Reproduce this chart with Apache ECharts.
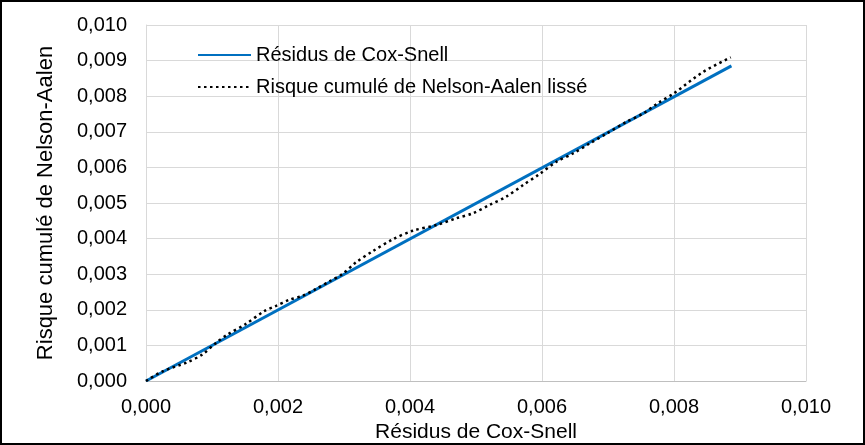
<!DOCTYPE html>
<html>
<head>
<meta charset="utf-8">
<script src="https://cdn.jsdelivr.net/npm/echarts@6/dist/echarts.min.js"></script>
<style>
html,body{margin:0;padding:0;background:#fff;}
#c{width:865px;height:445px;}
</style>
</head>
<body>
<div id="c"></div>
<script>
// Data
const seriesNames = ['Résidus de Cox-Snell', 'Risque cumulé de Nelson-Aalen lissé'];
const coxSnellX = [0, 0.00887];
const coxSnellY = [0, 0.00885];
const nelsonX = [0, 0.00025, 0.00063, 0.00085, 0.00106, 0.00123, 0.00151, 0.00179, 0.00197, 0.00217, 0.00237, 0.00257, 0.00278, 0.00298, 0.00318, 0.00343, 0.00374, 0.00404, 0.0044, 0.0047, 0.00495, 0.0052, 0.00546, 0.00571, 0.00596, 0.00622, 0.00647, 0.00672, 0.00698, 0.00728, 0.00753, 0.00776, 0.00799, 0.00844, 0.00886];
const nelsonY = [0, 0.00027, 0.00053, 0.00074, 0.00107, 0.0013, 0.0016, 0.00196, 0.00211, 0.00228, 0.00239, 0.00258, 0.0028, 0.00301, 0.00333, 0.00364, 0.00398, 0.00422, 0.00438, 0.00457, 0.00471, 0.00494, 0.00518, 0.0055, 0.00581, 0.00616, 0.00639, 0.00667, 0.00695, 0.00728, 0.00751, 0.00781, 0.00807, 0.00868, 0.00909];
const xTitle = 'Résidus de Cox-Snell';
const yTitle = 'Risque cumulé de Nelson-Aalen';

const pair = (xs, ys) => xs.map((x, i) => [x, ys[i]]);
const fmt = v => v.toFixed(3).replace('.', ',');
const FONT = '"Liberation Sans", Arial, sans-serif';

const chart = echarts.init(document.getElementById('c'), null, {renderer: 'canvas'});
chart.setOption({
  animation: false,
  backgroundColor: '#ffffff',
  textStyle: {fontFamily: FONT},
  graphic: [{
    type: 'rect', shape: {x: 1, y: 1, width: 863, height: 443},
    style: {fill: 'none', stroke: '#000', lineWidth: 2}, z: 100
  }],
  grid: {left: 146, right: 59, top: 25, bottom: 64, containLabel: false, outerBoundsMode: 'none'},
  legend: {
    orient: 'vertical', left: 197, top: 45, padding: 0,
    itemWidth: 53, itemHeight: 14, itemGap: 12,
    itemStyle: {opacity: 0},
    textStyle: {fontFamily: FONT, fontSize: 20, color: '#000', lineHeight: 20},
    data: seriesNames
  },
  xAxis: {
    type: 'value', min: 0, max: 0.01, interval: 0.002,
    name: xTitle, nameLocation: 'middle', nameGap: 38,
    nameTextStyle: {fontFamily: FONT, fontSize: 21, color: '#000'},
    axisLine: {show: true, lineStyle: {color: '#bfbfbf', width: 1}},
    axisTick: {show: false},
    axisLabel: {formatter: fmt, fontSize: 20, color: '#000', margin: 16, fontFamily: FONT},
    splitLine: {show: true, lineStyle: {color: '#d9d9d9', width: 1}}
  },
  yAxis: {
    type: 'value', min: 0, max: 0.01, interval: 0.001,
    name: yTitle, nameLocation: 'middle', nameGap: 89, nameRotate: 90,
    nameTextStyle: {fontFamily: FONT, fontSize: 22, color: '#000'},
    axisLine: {show: true, lineStyle: {color: '#d9d9d9', width: 1}},
    axisTick: {show: false},
    axisLabel: {formatter: fmt, fontSize: 20, color: '#000', margin: 19, fontFamily: FONT},
    splitLine: {show: true, lineStyle: {color: '#d9d9d9', width: 1}}
  },
  series: [
    {
      name: seriesNames[0], type: 'line', symbol: 'none',
      data: pair(coxSnellX, coxSnellY),
      lineStyle: {color: '#0070c0', width: 3},
      itemStyle: {color: '#0070c0'},
      z: 2
    },
    {
      name: seriesNames[1], type: 'line', symbol: 'none', smooth: 0.3,
      data: pair(nelsonX, nelsonY),
      lineStyle: {color: '#000', width: 2.5, type: [2.5, 3.5]},
      itemStyle: {color: '#000'},
      z: 3
    }
  ]
});
</script>
</body>
</html>
